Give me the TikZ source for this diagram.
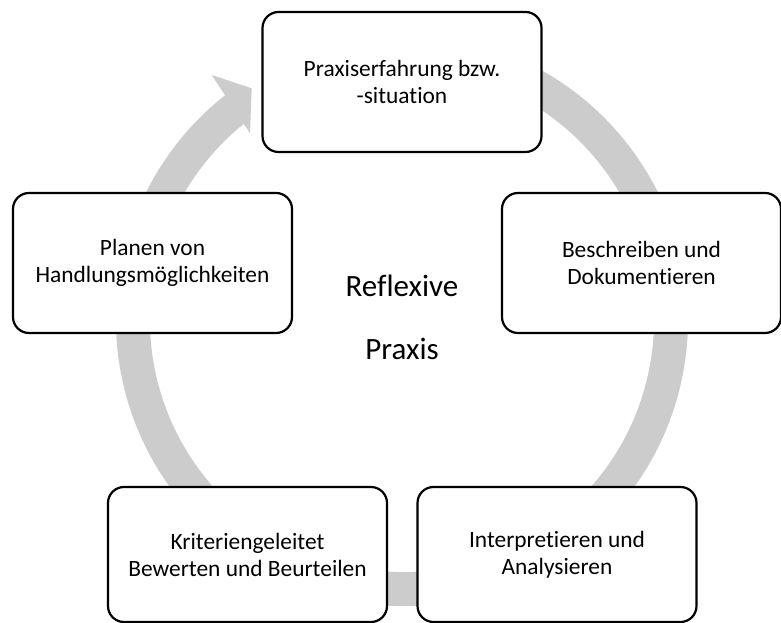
\documentclass[tikz,border=0pt]{standalone}
\usepackage{fontspec}
\setmainfont{Carlito}[Ligatures=NoCommon]
\usetikzlibrary{calc}

\definecolor{ringgray}{RGB}{204,204,204}

\begin{document}
\begin{tikzpicture}[x=1pt, y=1pt, line width=2.2pt,
    stage/.style={rectangle, rounded corners=16pt, draw=black, fill=white,
      minimum width=279pt, minimum height=140pt, align=center,
      font=\fontsize{23.4}{27}\selectfont},
    loopring/.style={draw=ringgray, line width=34pt}]
    \useasboundingbox (0,0) rectangle (781,623);
    \coordinate (hub) at (402,303);

    % grey ring with its head
    \draw[loopring] (hub) ++(80:269) arc[start angle=80, end angle=-233, radius=269];
    \fill[ringgray] (211.7,548) -- (251.7,534.7) -- (250,489.7) -- cycle;

    \node[stage] (exp) at (402,541) {Praxiserfahrung bzw.\\-situation};
    \node[stage] (doc) at (641.5,360) {Beschreiben und\\Dokumentieren};
    \node[stage, minimum height=135pt] (ana) at (557,68.5) {Interpretieren und\\Analysieren};
    \node[stage, minimum height=135pt] (eval) at (247.5,68.5) {Kriteriengeleitet\\Bewerten und Beurteilen};
    \node[stage] (plan) at (152.5,360) {Planen von\\Handlungsmöglichkeiten};

    \node[align=center, font=\fontsize{31}{63}\selectfont] (title) at (402,306) {Reflexive\\Praxis};
\end{tikzpicture}
\end{document}
